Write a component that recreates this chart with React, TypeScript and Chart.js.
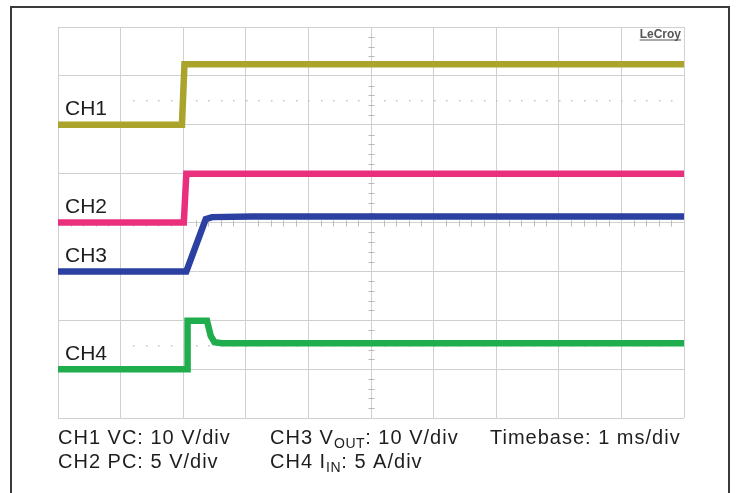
import { useEffect, useRef } from "react";
import { Chart, registerables } from "chart.js";

Chart.register(...registerables);

// ---- data ----
const channelNames = ["CH1", "CH2", "CH3", "CH4"];
const channelColors = ["#aaa32c", "#ea2f7c", "#2b40a0", "#20ad4e"];
const channelUnitsPerDiv = [10, 5, 10, 5]; // V/div, V/div, V/div, A/div
const channelOffsetDiv = [2, 0, -1, -3]; // ground marker position in divisions

const timeRangeMs = [-2, 8]; // 10 divisions at 1 ms/div
const verticalRangeDiv = [-4, 4]; // 8 divisions

const ch1TimeMs = [-2, -0.02, 0.02, 8];
const ch1Volts = [0, 0, 12.4, 12.4];

const ch2TimeMs = [-2, 0.01, 0.05, 8];
const ch2Volts = [0, 0, 5, 5];

const ch3TimeMs = [-2, 0.05, 0.36, 0.46, 1.1, 8];
const ch3Volts = [0, 0, 10.7, 11.1, 11.25, 11.25];

const ch4TimeMs = [-2, 0.07, 0.07, 0.38, 0.44, 0.5, 0.62, 8];
const ch4Amps = [0, 0, 4.95, 4.95, 3.4, 2.75, 2.65, 2.65];

type Seg = { t: string; sub?: boolean };
const captionRow1: Seg[][] = [
  [{ t: "CH1 VC: 10 V/div" }],
  [{ t: "CH3 V" }, { t: "OUT", sub: true }, { t: ": 10 V/div" }],
  [{ t: "Timebase: 1 ms/div" }],
];
const captionRow2: Seg[][] = [
  [{ t: "CH2 PC: 5 V/div" }],
  [{ t: "CH4 I" }, { t: "IN", sub: true }, { t: ": 5 A/div" }],
  [],
];
const brandLabel = "LeCroy";

const channelTimes = [ch1TimeMs, ch2TimeMs, ch3TimeMs, ch4TimeMs];
const channelValues = [ch1Volts, ch2Volts, ch3Volts, ch4Amps];

const FONT = '"Liberation Sans", Arial, Helvetica, sans-serif';

function drawSegments(ctx: CanvasRenderingContext2D, segs: Seg[], x: number, y: number) {
  let cx = x;
  for (const s of segs) {
    if (s.sub) {
      ctx.font = `14px ${FONT}`;
      (ctx as any).letterSpacing = "0.6px";
      ctx.fillText(s.t, cx, y + 4);
    } else {
      ctx.font = `20px ${FONT}`;
      (ctx as any).letterSpacing = "1px";
      ctx.fillText(s.t, cx, y);
    }
    cx += ctx.measureText(s.t).width;
  }
  (ctx as any).letterSpacing = "0px";
}

const scopePlugin = {
  id: "scopeDecor",
  beforeDatasetsDraw(chart: any) {
    const { ctx, chartArea } = chart;
    const xs = chart.scales.x;
    const ys = chart.scales.y;
    ctx.save();
    // minor ticks on the centre cross
    ctx.strokeStyle = "#b9b9b9";
    ctx.lineWidth = 1;
    const cx = Math.round(xs.getPixelForValue((timeRangeMs[0] + timeRangeMs[1]) / 2)) + 0.5;
    const cy = Math.round(ys.getPixelForValue(0)) + 0.5;
    ctx.beginPath();
    for (let k = verticalRangeDiv[0] * 5; k <= verticalRangeDiv[1] * 5; k++) {
      if (k % 5 === 0) continue;
      const py = Math.round(ys.getPixelForValue(k / 5)) + 0.5;
      ctx.moveTo(cx - 3, py);
      ctx.lineTo(cx + 3, py);
    }
    for (let k = timeRangeMs[0] * 5; k <= timeRangeMs[1] * 5; k++) {
      if (k % 5 === 0) continue;
      const px = Math.round(xs.getPixelForValue(k / 5)) + 0.5;
      ctx.moveTo(px, cy - 3);
      ctx.lineTo(px, cy + 3);
    }
    ctx.stroke();
    // faint dotted reference lines
    ctx.fillStyle = "#c4c4c4";
    for (const lv of [2.5, -2.5]) {
      const py = Math.round(ys.getPixelForValue(lv));
      for (let k = -4; k < timeRangeMs[1] * 5; k++) {
        const px = Math.round(xs.getPixelForValue(k / 5));
        if (px > chartArea.right - 2) break;
        ctx.fillRect(px, py, 1.5, 1.5);
      }
    }
    ctx.restore();
  },
  afterDraw(chart: any) {
    const { ctx, chartArea } = chart;
    ctx.save();
    ctx.fillStyle = "#1e1e1e";
    ctx.textBaseline = "alphabetic";
    ctx.textAlign = "left";
    // channel labels near their ground levels
    ctx.font = `21px ${FONT}`;
    channelNames.forEach((name, i) => {
      const sc = chart.scales[`yCh${i + 1}`];
      const gy = sc.getPixelForValue(0);
      ctx.fillText(name, chartArea.left + 7, gy - 9.5);
    });
    // brand mark
    ctx.font = `bold 12px ${FONT}`;
    ctx.fillStyle = "#555";
    const bw = ctx.measureText(brandLabel).width;
    const bx = chartArea.right - 3 - bw;
    const by = chartArea.top + 11;
    ctx.fillText(brandLabel, bx, by);
    ctx.fillRect(bx, by + 1.5, bw, 1);
    // captions
    ctx.fillStyle = "#1e1e1e";
    const cols = [chartArea.left, chartArea.left + 212, chartArea.left + 432];
    captionRow1.forEach((segs, i) => drawSegments(ctx, segs, cols[i], chartArea.bottom + 26));
    captionRow2.forEach((segs, i) => drawSegments(ctx, segs, cols[i], chartArea.bottom + 50));
    ctx.restore();
  },
};

export default function App() {
  const canvasRef = useRef<HTMLCanvasElement | null>(null);

  useEffect(() => {
    if (!canvasRef.current) return;
    const gridStyle = { color: "#d0d0d0", lineWidth: 1, drawTicks: false };
    const channelScales: Record<string, any> = {};
    channelNames.forEach((_, i) => {
      const u = channelUnitsPerDiv[i];
      const off = channelOffsetDiv[i];
      channelScales[`yCh${i + 1}`] = {
        type: "linear",
        display: false,
        min: (verticalRangeDiv[0] - off) * u,
        max: (verticalRangeDiv[1] - off) * u,
      };
    });

    const chart = new Chart(canvasRef.current, {
      type: "line",
      data: {
        datasets: channelNames.map((name, i) => ({
          label: name,
          data: channelTimes[i].map((t, k) => ({ x: t, y: channelValues[i][k] })),
          yAxisID: `yCh${i + 1}`,
          borderColor: channelColors[i],
          backgroundColor: channelColors[i],
          borderWidth: 6.5,
          pointRadius: 0,
          tension: 0,
          borderJoinStyle: "miter" as const,
        })),
      },
      options: {
        animation: false,
        responsive: true,
        maintainAspectRatio: false,
        layout: { padding: { left: 58, top: 27, right: 53, bottom: 75 } },
        plugins: { legend: { display: false }, tooltip: { enabled: false } },
        events: [],
        scales: {
          x: {
            type: "linear",
            min: timeRangeMs[0],
            max: timeRangeMs[1],
            ticks: { display: false, stepSize: 1 },
            grid: gridStyle,
            border: { display: false },
          },
          y: {
            type: "linear",
            min: verticalRangeDiv[0],
            max: verticalRangeDiv[1],
            ticks: { display: false, stepSize: 1 },
            grid: gridStyle,
            border: { display: false },
          },
          ...channelScales,
        },
      },
      plugins: [scopePlugin],
    });
    return () => chart.destroy();
  }, []);

  return (
    <div
      style={{
        position: "fixed",
        left: 0,
        top: 0,
        width: 737,
        height: 493,
        overflow: "hidden",
        background: "#fff",
      }}
    >
      <div
        style={{
          position: "absolute",
          left: 10,
          top: 6,
          width: 716,
          height: 600,
          border: "2px solid #3a3a3a",
        }}
      />
      <div style={{ position: "absolute", left: 0, top: 0, width: 737, height: 493 }}>
        <canvas ref={canvasRef} />
      </div>
    </div>
  );
}
